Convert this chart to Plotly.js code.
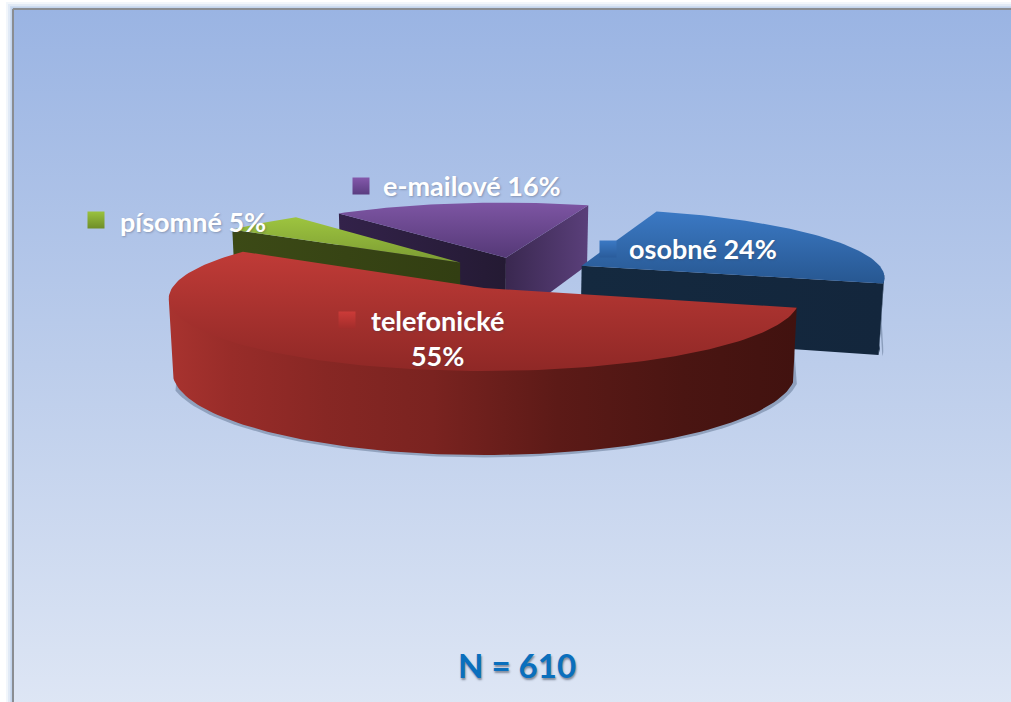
<!DOCTYPE html>
<html><head><meta charset="utf-8">
<script src="https://cdn.plot.ly/plotly-3.0.1.min.js"></script>
<style>html,body{margin:0;padding:0;background:#fff;overflow:hidden}#c{width:1011px;height:702px}</style>
</head><body><div id="c"></div>
<script>
// Data
const categories = ['osobné', 'telefonické', 'písomné', 'e-mailové'];
const shares = [24, 55, 5, 16];
const sampleLabel = 'N = 610';

// Styles per slice (gradient colours: top edge, bottom edge)
const topGrad = [['#3b79c4','#275791'],['#c03b37','#8f2826'],['#9dc43f','#7c9c33'],['#7d55a3','#553977']];
const startFace = [null,null,['#3c4a16','#323e12'],['#33224a','#241a33']];
const endFace = [['#14293f','#13263c'],null,null,['#3a2850','#5a3f7a']];
const rimStops = [
  [[0,'#14293f'],[1,'#14263c']],
  [[0,'#a8332f'],[0.1,'#982c29'],[0.25,'#872724'],[0.42,'#7a2320'],[0.62,'#5c1a17'],[0.82,'#4a1512'],[1,'#41120f']],
  null, null];
const keyCol = [['#3b79c4','#2a5c9b'],['#cc3b38','#a32d2b'],['#9ac23e','#6f8e28'],['#8458ab','#5a3d80']];
const labelPos = [[703,248],[437,338],[193,221],[472,185]];
const keyPos = [[608,249],[347,320],[96,220],[361,186]];
const sliceNudge = [6,1,0,6];

// Projection
const cx=483, cy=288, Rx=312, Ry=71, persp=0.144, depth=72, expl=0.24, firstAngle=-70.9, taper=0.012;
const rad=d=>d*Math.PI/180;
const silhouette=Math.asin(persp)*180/Math.PI; // angle of the widest point of the projected circle
function proj(X,Y,z){const s=1/(1-persp*Y);return [cx+Rx*X*s*(1-taper*z), cy+Ry*Y*s+z*depth*s];}

const total=shares.reduce((a,b)=>a+b,0);
let a=firstAngle;
const slices=shares.map(v=>{const s={a0:a,a1:a+v/total*360};a=s.a1;s.mid=(s.a0+s.a1)/2;return s;});
const ref=slices[1];
const Gx=-expl*Math.cos(rad(ref.mid)), Gy=-expl*Math.sin(rad(ref.mid));
slices.forEach((s,i)=>{s.ox=Gx+expl*Math.cos(rad(s.mid))+sliceNudge[i]/Rx;s.oy=Gy+expl*Math.sin(rad(s.mid));});
function rimPt(s,d,z,k){k=k||1;return proj(s.ox+k*Math.cos(rad(d)),s.oy+k*Math.sin(rad(d)),z);}
function arc(s,from,to,z,k){const n=Math.max(2,Math.ceil(Math.abs(to-from)/1.5));const o=[];for(let i=0;i<=n;i++)o.push(rimPt(s,from+(to-from)*i/n,z,k));return o;}
function poly(pts,grad,type){return {type:'scatter',mode:'lines',x:pts.map(p=>p[0]),y:pts.map(p=>p[1]),fill:'toself',line:{width:0},hoverinfo:'skip',
  fillgradient:{type:type,colorscale:grad}};}
const scale2=c=>[[0,c[0]],[1,c[1]]];
const scaleV=c=>[[0,c[1]],[1,c[0]]]; // vertical gradients run bottom to top

const traces=[];
// background panel
traces.push({type:'scatter',mode:'lines',x:[13,1025,1025,13,13],y:[9,9,720,720,9],fill:'toself',hoverinfo:'skip',
  line:{color:'#8a8d92',width:2},
  fillgradient:{type:'vertical',colorscale:[[0,'#dfe7f5'],[0.5,'#bccdeb'],[1,'#9ab4e3']]}});
// shadows
[0,1].forEach(i=>{const s=slices[i];const from=Math.max(s.a0,i===0?8:-12),to=Math.min(s.a1,160);
  const pts=arc(s,from,to,1,1.012).map(p=>[p[0],p[1]+1]);
  const top=[rimPt(s,to,0.6),rimPt(s,from,0.6)];
  traces.push({type:'scatter',mode:'lines',x:pts.concat(top).map(p=>p[0]),y:pts.concat(top).map(p=>p[1]),fill:'toself',
    line:{width:0},fillcolor:'rgba(70,90,120,0.4)',hoverinfo:'skip'});});
// slices back to front
[3,0,2,1].forEach(i=>{const s=slices[i];const A=proj(s.ox,s.oy,0),B=proj(s.ox,s.oy,1);
  if(startFace[i]&&-Math.cos(rad(s.a0))>0){traces.push(poly([A,rimPt(s,s.a0,0),rimPt(s,s.a0,1),B],scale2(startFace[i]),'horizontal'));}
  if(endFace[i]&&Math.cos(rad(s.a1))>0){traces.push(poly([A,rimPt(s,s.a1,0),rimPt(s,s.a1,1),B],scale2(endFace[i]),'horizontal'));}
  if(rimStops[i]){const from=Math.max(s.a0,silhouette),to=Math.min(s.a1,180-silhouette);
    traces.push(poly([rimPt(s,from,0)].concat(arc(s,from,to,0,0.985),[rimPt(s,to,0)],arc(s,to,from,1)),rimStops[i],'horizontal'));}
  traces.push(poly([A].concat(arc(s,s.a0,s.a1,0)),scaleV(topGrad[i]),'vertical'));
});
// label keys
categories.forEach((c,i)=>{traces.push({type:'scatter',mode:'markers',x:[keyPos[i][0]],y:[keyPos[i][1]],hoverinfo:'skip',
  marker:{symbol:'square',size:17,color:keyCol[i][0],line:{width:0},gradient:{type:'vertical',color:keyCol[i][1]}}});});

const ann=categories.map((c,i)=>({x:labelPos[i][0],y:labelPos[i][1],xref:'x',yref:'y',showarrow:false,align:'center',
  text:c+(i===1?'<br>':' ')+shares[i]+'%',
  font:{family:'Lato, Carlito, sans-serif',size:27,color:'#ffffff',weight:700,shadow:'1px 1px 2px rgba(60,70,90,0.35)'}}));
ann.push({x:517,y:665,xref:'x',yref:'y',showarrow:false,text:sampleLabel,
  font:{family:'Lato, Carlito, sans-serif',size:33,color:'#0a6fbd',weight:700,shadow:'1px 2px 2px rgba(40,50,70,0.5)'}});

const glow=[[14,0.10],[10,0.14],[6,0.2],[3,0.3]].map(g=>({type:'rect',layer:'below',xref:'x',yref:'y',x0:13,y0:9,x1:1030,y1:730,
  line:{color:'rgba(130,165,220,'+g[1]+')',width:g[0]},fillcolor:'rgba(0,0,0,0)'}));

Plotly.newPlot('c',traces,{
  width:1011,height:702,margin:{l:0,r:0,t:0,b:0,pad:0},showlegend:false,paper_bgcolor:'#ffffff',plot_bgcolor:'rgba(0,0,0,0)',
  xaxis:{range:[0,1011],visible:false,fixedrange:true},
  yaxis:{range:[702,0],visible:false,fixedrange:true},
  shapes:glow,annotations:ann,hovermode:false
},{displayModeBar:false,staticPlot:true});
</script></body></html>
